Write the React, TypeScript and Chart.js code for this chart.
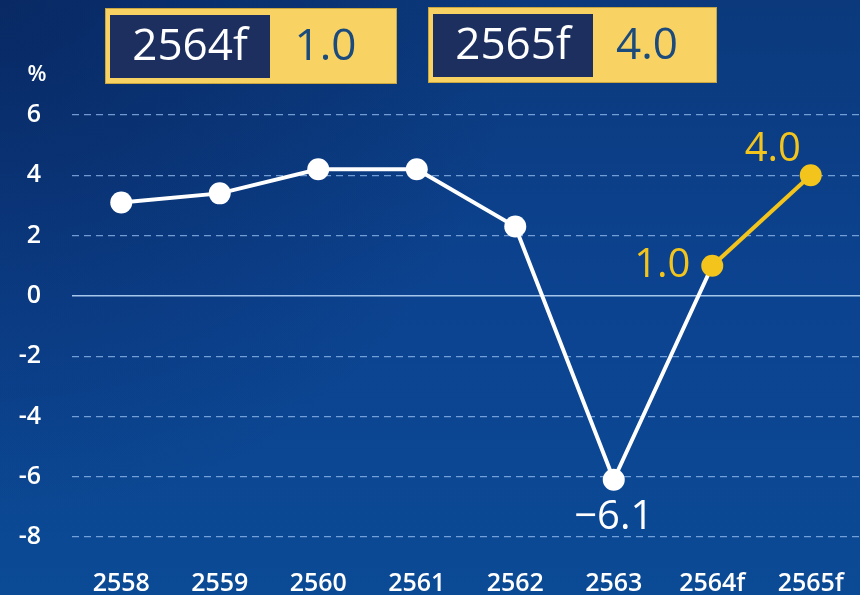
import React, { useEffect, useRef } from "react";
import { Chart, registerables } from "chart.js";

Chart.register(...registerables);

const categories = ["2558", "2559", "2560", "2561", "2562", "2563", "2564f", "2565f"];
const actualValues: (number | null)[] = [3.1, 3.4, 4.2, 4.2, 2.3, -6.1, 1.0, null];
const forecastValues: (number | null)[] = [null, null, null, null, null, null, 1.0, 4.0];
const yMin = -8;
const yMax = 6;
const yStep = 2;
const unitLabel = "%";
const summaryYears = ["2564f", "2565f"];
const summaryValues = [1.0, 4.0];
const calloutIndices = [5, 6, 7];

const FONT = "'Open Sans', 'DejaVu Sans', sans-serif";
const WHITE = "#ffffff";
const YELLOW = "#f3c51c";
const BOX_YELLOW = "#f8d364";
const BOX_DARK = "#1d2f5f";
const BOX_TEXT = "#1b4a7c";

const fmt = (v: number) => (v < 0 ? "\u2212" + Math.abs(v).toFixed(1) : v.toFixed(1));

const backgroundPlugin = {
  id: "bg",
  beforeDraw(chart: any) {
    const { ctx, width, height } = chart;
    ctx.save();
    const g = ctx.createLinearGradient(0, 0, 0, height);
    g.addColorStop(0, "#0b397c");
    g.addColorStop(0.5, "#0c4390");
    g.addColorStop(1, "#0b4a95");
    ctx.fillStyle = g;
    ctx.fillRect(0, 0, width, height);
    const r = ctx.createRadialGradient(0, 0, 0, 0, 0, 520);
    r.addColorStop(0, "rgba(6,28,80,0.55)");
    r.addColorStop(1, "rgba(6,28,80,0)");
    ctx.fillStyle = r;
    ctx.fillRect(0, 0, width, height);
    ctx.restore();
  },
};

const decorPlugin = {
  id: "decor",
  afterDraw(chart: any) {
    const { ctx } = chart;
    ctx.save();
    ctx.fillStyle = WHITE;
    ctx.font = `600 22px ${FONT}`;
    ctx.textAlign = "center";
    ctx.textBaseline = "middle";
    ctx.fillText(unitLabel, 37, 75);

    const boxes = [
      { x: 105, y: 8, w: 292, h: 76, dw: 160 },
      { x: 428, y: 7, w: 289, h: 76, dw: 160 },
    ];
    boxes.forEach((b, i) => {
      ctx.fillStyle = BOX_YELLOW;
      ctx.fillRect(b.x, b.y, b.w, b.h);
      ctx.strokeStyle = "#c9a640";
      ctx.lineWidth = 1;
      ctx.strokeRect(b.x + 0.5, b.y + 0.5, b.w - 1, b.h - 1);
      ctx.fillStyle = BOX_DARK;
      ctx.fillRect(b.x + 5, b.y + 7, b.dw, b.h - 13);
      ctx.textBaseline = "middle";
      ctx.textAlign = "center";
      ctx.font = `500 44px ${FONT}`;
      ctx.fillStyle = WHITE;
      ctx.fillText(summaryYears[i], b.x + 5 + b.dw / 2, b.y + b.h / 2 + 1);
      ctx.fillStyle = BOX_TEXT;
      ctx.fillText(summaryValues[i].toFixed(1), b.x + 5 + b.dw + (b.w - b.dw - 5) / 2 - 8, b.y + b.h / 2 + 1);
    });
    ctx.restore();
  },
};

const zeroLinePlugin = {
  id: "zeroLine",
  beforeDatasetsDraw(chart: any) {
    const { ctx, chartArea, scales } = chart;
    const y = scales.y.getPixelForValue(0);
    ctx.save();
    ctx.strokeStyle = "rgba(175,205,240,0.95)";
    ctx.lineWidth = 1.5;
    ctx.beginPath();
    ctx.moveTo(chartArea.left, y);
    ctx.lineTo(chartArea.right, y);
    ctx.stroke();
    ctx.restore();
  },
};

const calloutPlugin = {
  id: "callouts",
  afterDatasetsDraw(chart: any) {
    const { ctx } = chart;
    ctx.save();
    ctx.font = `500 40px ${FONT}`;
    ctx.textAlign = "center";
    ctx.textBaseline = "middle";
    calloutIndices.forEach((idx) => {
      const isForecast = forecastValues[idx] != null;
      const meta = chart.getDatasetMeta(isForecast ? 1 : 0);
      const el = meta.data[idx];
      const v = (isForecast ? forecastValues[idx] : actualValues[idx]) as number;
      const text = fmt(v);
      let dx = 0;
      let dy = 0;
      if (!isForecast) {
        dy = 38;
        ctx.fillStyle = WHITE;
      } else if (idx === categories.length - 1) {
        dx = -38;
        dy = -26;
        ctx.fillStyle = YELLOW;
      } else {
        dx = -50;
        dy = 0;
        ctx.fillStyle = YELLOW;
      }
      ctx.fillText(text, el.x + dx, el.y + dy);
    });
    ctx.restore();
  },
};

export default function App() {
  const ref = useRef<HTMLCanvasElement | null>(null);
  useEffect(() => {
    document.body.style.margin = "0";
    const canvas = ref.current;
    if (!canvas) return;
    const chart = new Chart(canvas, {
      type: "line",
      data: {
        labels: categories,
        datasets: [
          {
            data: actualValues,
            borderColor: WHITE,
            borderWidth: 4,
            pointBackgroundColor: WHITE,
            pointBorderColor: WHITE,
            pointRadius: actualValues.map((_, i) => (forecastValues[i] != null ? 0 : 11)),
            pointBorderWidth: 0,
            tension: 0,
            clip: false as any,
            order: 1,
          },
          {
            data: forecastValues,
            borderColor: YELLOW,
            borderWidth: 4,
            pointBackgroundColor: YELLOW,
            pointBorderColor: YELLOW,
            pointRadius: 11,
            pointBorderWidth: 0,
            tension: 0,
            clip: false as any,
            order: 0,
          },
        ],
      },
      options: {
        responsive: false,
        animation: false,
        layout: { autoPadding: false, padding: { top: 115, left: 0, right: 0, bottom: 0 } },
        plugins: {
          legend: { display: false },
          tooltip: { enabled: false },
        },
        scales: {
          x: {
            offset: true,
            grid: { display: false, drawTicks: false },
            border: { display: false },
            ticks: {
              color: WHITE,
              font: { family: FONT, size: 25, weight: "600" as any },
              padding: 32,
              maxRotation: 0,
            },
            afterFit(scale: any) {
              scale.height = 58;
              scale.paddingLeft = 0;
              scale.paddingRight = 0;
            },
          },
          y: {
            min: yMin,
            max: yMax,
            ticks: {
              stepSize: yStep,
              color: WHITE,
              font: { family: FONT, size: 25, weight: "600" as any },
              padding: 31,
              crossAlign: "near",
              callback: (v: any) => String(v),
            },
            grid: {
              drawTicks: false,
              color: (c: any) => (c.tick && c.tick.value === 0 ? "rgba(0,0,0,0)" : "rgba(150,190,240,0.75)"),
              lineWidth: 1.2,
            },
            border: { display: false, dash: [7, 5] },
            afterFit(scale: any) {
              scale.width = 72;
            },
          },
        },
      },
      plugins: [backgroundPlugin, zeroLinePlugin, calloutPlugin, decorPlugin],
    });
    return () => chart.destroy();
  }, []);
  return <canvas ref={ref} width={860} height={595} style={{ display: "block" }} />;
}
